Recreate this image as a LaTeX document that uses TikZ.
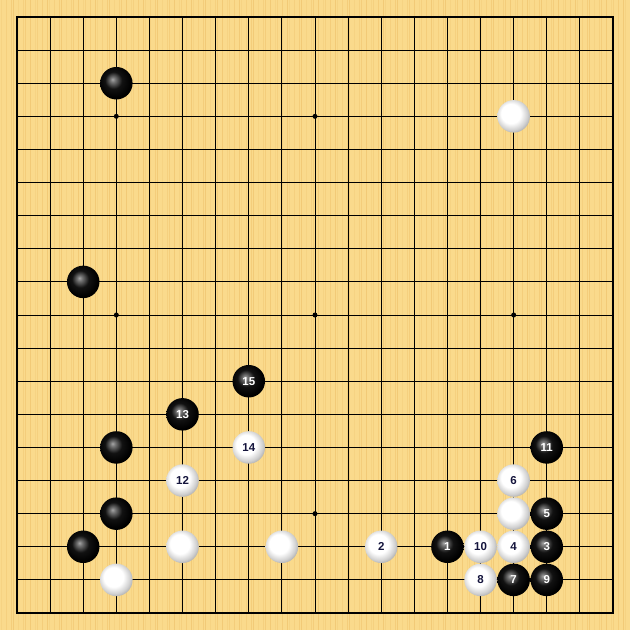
\documentclass[tikz,border=0pt]{standalone}
\usepackage{fontspec}
\setsansfont{Liberation Sans}
\definecolor{boardbg}{HTML}{FADA8C}
\definecolor{stripe}{HTML}{F0C570}
\definecolor{navy}{HTML}{14143C}
\pgfdeclareradialshading{whiteball}{\pgfpoint{-6bp}{6bp}}{color(0bp)=(white); color(15bp)=(white); color(24bp)=(black!18); color(31bp)=(black!38); color(50bp)=(black!50)}
\pgfdeclareradialshading{blackball}{\pgfpoint{-6bp}{6bp}}{color(0bp)=(black!35); color(4bp)=(black!55); color(13bp)=(black!93); color(25bp)=(black); color(50bp)=(black)}
\tikzset{
  grid line/.style={line width=0.8pt, black},
  border line/.style={line width=1.4pt, black},
  stonelabel/.style={font=\sffamily\bfseries\fontsize{11.5}{12}\selectfont},
  blackstone/.style={circle, minimum size=32.5pt, inner sep=0pt, shading=blackball, text=white, stonelabel},
  whitestone/.style={circle, minimum size=32.5pt, inner sep=0pt, shading=whiteball, text=navy, stonelabel},
  starpt/.style={circle, fill=black, minimum size=5pt, inner sep=0pt}
}
\begin{document}
\begin{tikzpicture}[x=1pt,y=-1pt]
\useasboundingbox (0,0) rectangle (630,630);
\fill[boardbg] (0,0) rectangle (630,630);
\foreach \i in {0,...,157} {
  \pgfmathsetmacro{\xx}{\i*4+1+mod(\i*7,3)}
  \pgfmathsetmacro{\op}{0.3+0.15*mod(\i*5,4)}
  \fill[stripe, opacity=\op] (\xx,0) rectangle ++(1.3,630);
}
\def\s{33.111}
\foreach \k in {1,...,17} {
  \draw[grid line] ({17+\k*\s},17) -- ({17+\k*\s},613);
  \draw[grid line] (17,{17+\k*\s}) -- (613,{17+\k*\s});
}
\draw[border line] (17,17) rectangle (613,613);
\foreach \c/\r [count=\n] in {3/3,9/3,15/3,3/9,9/9,15/9,3/15,9/15,15/15} {
  \node[starpt] (star\n) at ({17+\c*\s},{17+\r*\s}) {};
}
% black stones: col/row/label
\foreach \c/\r/\t [count=\n] in {3/2/,2/8/,7/11/15,5/12/13,3/13/,16/13/11,3/15/,16/15/5,2/16/,13/16/1,16/16/3,15/17/7,16/17/9} {
  \node[blackstone] (b\n) at ({17+\c*\s},{17+\r*\s}) {\t};
}
% white stones
\foreach \c/\r/\t [count=\n] in {15/3/,7/13/14,5/14/12,15/14/6,15/15/,5/16/,8/16/,11/16/2,14/16/10,15/16/4,3/17/,14/17/8} {
  \node[whitestone] (w\n) at ({17+\c*\s},{17+\r*\s}) {\t};
}
\end{tikzpicture}
\end{document}
